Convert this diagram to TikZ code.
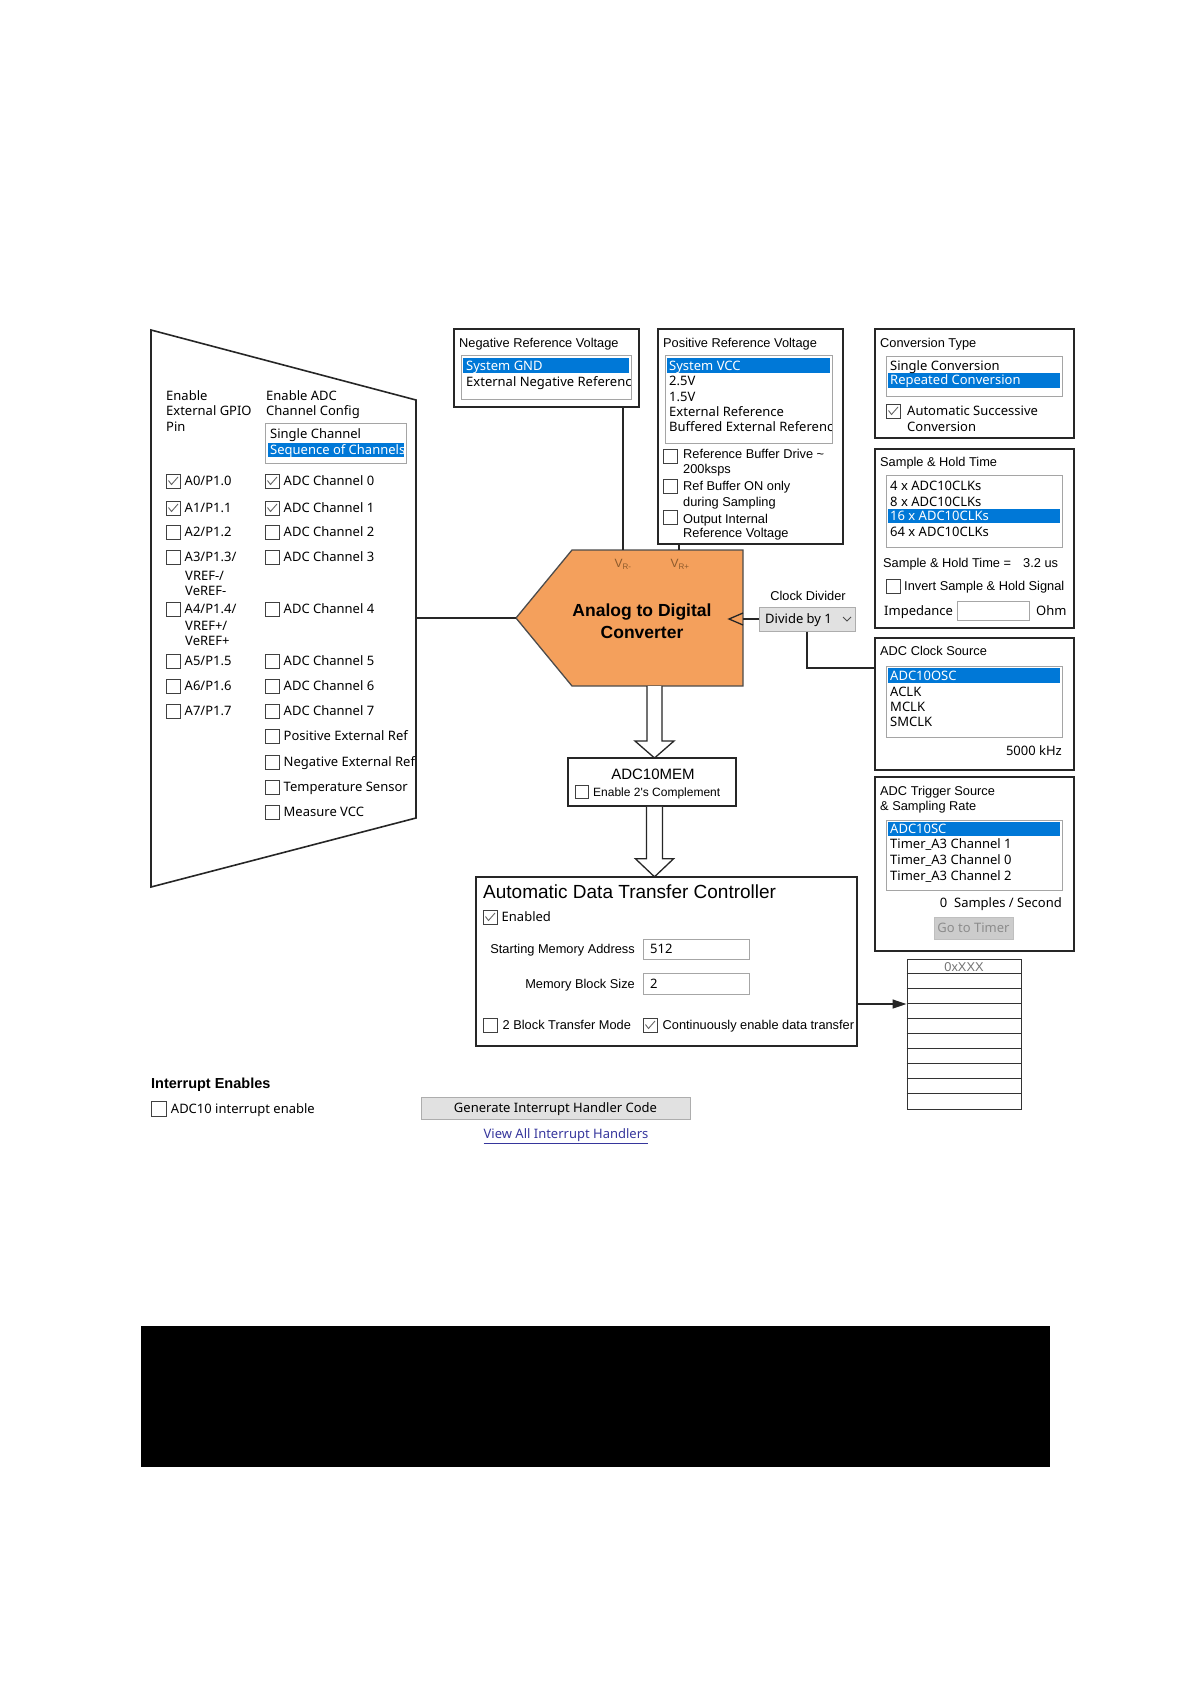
\documentclass[tikz,border=0pt]{standalone}
\usepackage{fontspec}
\setmainfont{Noto Sans}
\newfontfamily\msans{Liberation Sans}
\usetikzlibrary{arrows.meta,positioning,fit}
\definecolor{selBlue}{HTML}{0078D7}
\definecolor{adcOrange}{HTML}{F4A05C}
\definecolor{vrBrown}{HTML}{8C5A2C}
\definecolor{listEdge}{HTML}{A5A5A5}
\definecolor{btnFill}{HTML}{E1E1E1}
\definecolor{btnEdge}{HTML}{ADADAD}
\definecolor{linkBlue}{HTML}{36369C}

\begin{document}
\begin{tikzpicture}[x=1pt,y=-1pt,
  panel/.style={draw=black!85,line width=1.6pt,inner sep=0pt,fit={#1}},
  list/.style={draw=listEdge,line width=1pt,fill=white},
  sel/.style={fill=selBlue},
  ui/.style={inner sep=0pt,anchor=west,font=\fontsize{13}{15}\selectfont,text height=10pt,text depth=1pt},
  ms/.style={inner sep=0pt,anchor=west,font=\msans\fontsize{12.8}{15}\selectfont,text height=10pt,text depth=1pt},
  vr/.style={inner sep=0pt,font=\msans\fontsize{12}{12}\selectfont,text=vrBrown},
  cb/.style={draw=black!75,line width=1pt,fill=white,minimum size=14pt,inner sep=0pt},
  cbx/.style={cb,path picture={\draw[black!60,line width=0.9pt]
    ([xshift=-4.5pt,yshift=0.5pt]path picture bounding box.center) --
    ([xshift=-1.5pt,yshift=-3.5pt]path picture bounding box.center) --
    ([xshift=5pt,yshift=4pt]path picture bounding box.center);}},
  field/.style={draw=black!35,line width=1pt,fill=white,inner sep=0pt,fit={#1}},
  btn/.style={draw=btnEdge,fill=btnFill,line width=1pt,inner sep=0pt,
    font=\fontsize{13}{15}\selectfont,text height=10pt,text depth=1pt},
  wire/.style={draw=black!85,line width=1.3pt},
  hollow/.style={draw=black!85,line width=1.3pt,fill=white},
  adc/.style={draw=black!70,line width=1.3pt,fill=adcOrange}]
\useasboundingbox (0,0) rectangle (1191,1684);

% input multiplexer
\draw[draw=black!85,line width=1.6pt] (151,330) -- (416,400) -- (416,818) -- (151,887) -- cycle;
\coordinate (muxout) at (416,618);
\node[ui] (engpio1) at (166,396) {Enable};
\node[ui] (engpio2) at (166,411) {External GPIO};
\node[ui] (engpio3) at (166,427) {Pin};
\node[ui] (enadc1) at (266,396) {Enable ADC};
\node[ui] (enadc2) at (266,411) {Channel Config};
\draw[list] (265,423) rectangle (406,463);
\fill[sel] (268,443) rectangle (404,457);
\begin{scope}
\clip (266,424) rectangle (404,462);
\node[ui] (single) at (270,434) {Single Channel};
\node[ui,text=white] (seqch) at (270,450) {Sequence of Channels};
\end{scope}
\node[cbx] (a0) at (173,481) {}; \node[ui,right=4pt of a0] (a0t) {A0/P1.0};
\node[cbx] (a1) at (173,508) {}; \node[ui,right=4pt of a1] (a1t) {A1/P1.1};
\node[cb] (a2) at (173,532) {}; \node[ui,right=4pt of a2] (a2t) {A2/P1.2};
\node[cb] (a3) at (173,557) {}; \node[ui,right=4pt of a3] (a3t) {A3/P1.3/};
\node[ui] (a3u) at (185,576) {VREF-/};
\node[ui] (a3v) at (185,591) {VeREF-};
\node[cb] (a4) at (173,609) {}; \node[ui,right=4pt of a4] (a4t) {A4/P1.4/};
\node[ui] (a4u) at (185,626) {VREF+/};
\node[ui] (a4v) at (185,641) {VeREF+};
\node[cb] (a5) at (173,661) {}; \node[ui,right=4pt of a5] (a5t) {A5/P1.5};
\node[cb] (a6) at (173,686) {}; \node[ui,right=4pt of a6] (a6t) {A6/P1.6};
\node[cb] (a7) at (173,711) {}; \node[ui,right=4pt of a7] (a7t) {A7/P1.7};
\node[cbx] (ch0) at (272,481) {}; \node[ui,right=4pt of ch0] (ch0t) {ADC Channel 0};
\node[cbx] (ch1) at (272,508) {}; \node[ui,right=4pt of ch1] (ch1t) {ADC Channel 1};
\node[cb] (ch2) at (272,532) {}; \node[ui,right=4pt of ch2] (ch2t) {ADC Channel 2};
\node[cb] (ch3) at (272,557) {}; \node[ui,right=4pt of ch3] (ch3t) {ADC Channel 3};
\node[cb] (ch4) at (272,609) {}; \node[ui,right=4pt of ch4] (ch4t) {ADC Channel 4};
\node[cb] (ch5) at (272,661) {}; \node[ui,right=4pt of ch5] (ch5t) {ADC Channel 5};
\node[cb] (ch6) at (272,686) {}; \node[ui,right=4pt of ch6] (ch6t) {ADC Channel 6};
\node[cb] (ch7) at (272,711) {}; \node[ui,right=4pt of ch7] (ch7t) {ADC Channel 7};
\node[cb] (pext) at (272,736) {}; \node[ui,right=4pt of pext] (pextt) {Positive External Ref};
\node[cb] (next) at (272,762) {}; \node[ui,right=4pt of next] (nextt) {Negative External Ref};
\node[cb] (temp) at (272,787) {}; \node[ui,right=4pt of temp] (tempt) {Temperature Sensor};
\node[cb] (mvcc) at (272,812) {}; \node[ui,right=4pt of mvcc] (mvcct) {Measure VCC};

% reference voltages
\node[panel={(454,329) (639,407)}] (negref) {};
\node[ms] (negt) at (459,343) {Negative Reference Voltage};
\draw[list] (461,355) rectangle (631,399);
\fill[sel] (463,358) rectangle (629,373);
\begin{scope}
\clip (462,356) rectangle (630,398);
\node[ui,text=white] (gnd) at (466,366) {System GND};
\node[ui] (extneg) at (466,382) {External Negative Referenc};
\end{scope}
\node[panel={(658,329) (843,544)}] (posref) {};
\node[ms] (post) at (663,343) {Positive Reference Voltage};
\draw[list] (665,355) rectangle (832,443);
\fill[sel] (667,358) rectangle (830,373);
\begin{scope}
\clip (666,356) rectangle (831,442);
\node[ui,text=white] (vcc) at (669,366) {System VCC};
\node[ui] (v25) at (669,381) {2.5V};
\node[ui] (v15) at (669,397) {1.5V};
\node[ui] (extref) at (669,412) {External Reference};
\node[ui] (bufref) at (669,427) {Buffered External Referenc};
\end{scope}
\node[cb] (rbd) at (670,456) {};
\node[ms] (rbd1) at (683,454) {Reference Buffer Drive \textasciitilde};
\node[ms] (rbd2) at (683,469) {200ksps};
\node[cb] (rbs) at (670,486) {};
\node[ms] (rbs1) at (683,486) {Ref Buffer ON only};
\node[ms] (rbs2) at (683,502) {during Sampling};
\node[cb] (oiv) at (670,517) {};
\node[ms] (oiv1) at (683,519) {Output Internal};
\node[ms] (oiv2) at (683,533) {Reference Voltage};

% converter
\draw[adc] (572,550) -- (743,550) -- (743,686) -- (572,686) -- (516,618) -- cycle;
\coordinate (vrm) at (623,550);
\coordinate (vrp) at (679,550);
\coordinate (adcin) at (516,618);
\coordinate (clkin) at (743,619);
\coordinate (adcout) at (654.5,686);
\node[font=\msans\bfseries\fontsize{17.5}{22}\selectfont,align=center,inner sep=0pt] (adcname) at (642,621) {Analog to Digital\\Converter};
\node[vr] (vrmt) at (623,564) {V\textsubscript{R-}};
\node[vr] (vrpt) at (680,564) {V\textsubscript{R+}};
\draw[wire] (negref.south -| vrm) -- (vrm);
\draw[wire] (posref.south -| vrp) -- (vrp);
\draw[wire] (muxout) -- (adcin);

% clock
\draw[wire] (clkin) ++(0,-6) -- ++(-14,6) -- ++(14,6);
\node[ms,anchor=center] (clkdiv) at (808,596) {Clock Divider};
\node[btn,minimum width=96pt,minimum height=24pt] (divby) at (807,619) {};
\node[ui] (divbyt) at (765,619) {Divide by 1};
\draw[black!70,line width=1pt] (843,617) -- (847,621) -- (851,617);
\draw[wire] (clkin) -- (divby.west);
\coordinate (clkturn) at (807,668);

% conversion type
\node[panel={(875,329) (1074,438)}] (conv) {};
\node[ms] (convt) at (880,343) {Conversion Type};
\draw[list] (886,356) rectangle (1062,396);
\fill[sel] (888,373) rectangle (1060,388);
\node[ui] (sconv) at (890,366) {Single Conversion};
\node[ui,text=white] (rconv) at (890,380) {Repeated Conversion};
\node[cbx] (asc) at (893,411) {};
\node[ui] (asc1) at (907,411) {Automatic Successive};
\node[ui] (asc2) at (907,427) {Conversion};

% sample and hold
\node[panel={(875,449) (1074,628)}] (sht) {};
\node[ms] (shtt) at (880,462) {Sample \& Hold Time};
\draw[list] (886,475) rectangle (1062,547);
\fill[sel] (888,509) rectangle (1060,523);
\node[ui] (clk4) at (890,486) {4 x ADC10CLKs};
\node[ui] (clk8) at (890,502) {8 x ADC10CLKs};
\node[ui,text=white] (clk16) at (890,516) {16 x ADC10CLKs};
\node[ui] (clk64) at (890,532) {64 x ADC10CLKs};
\node[ms] (shval) at (883,563) {Sample \& Hold Time =};
\node[ms] (shus) at (1023,563) {3.2 us};
\node[cb] (inv) at (893,586) {};
\node[ms] (invt) at (904,586) {Invert Sample \& Hold Signal};
\node[ui] (imp) at (884,611) {Impedance};
\node[field={(957,601) (1029,620)}] (impf) {};
\node[ui] (ohm) at (1036,611) {Ohm};

% clock source
\node[panel={(875,638) (1074,770)}] (clksrc) {};
\node[ms] (clksrct) at (880,651) {ADC Clock Source};
\draw[list] (886,666) rectangle (1062,737);
\fill[sel] (888,668) rectangle (1060,683);
\node[ui,text=white] (osc) at (890,676) {ADC10OSC};
\node[ui] (aclk) at (890,692) {ACLK};
\node[ui] (mclk) at (890,707) {MCLK};
\node[ui] (smclk) at (890,722) {SMCLK};
\node[ui,anchor=east] (khz) at (1062,751) {5000 kHz};
\draw[wire] (divby.south -| clkturn) -- (clkturn) -- (clksrc.west |- clkturn);

% trigger source
\node[panel={(875,777) (1074,951)}] (trig) {};
\node[ms] (trigt1) at (880,791) {ADC Trigger Source};
\node[ms] (trigt2) at (880,806) {\& Sampling Rate};
\draw[list] (886,820) rectangle (1062,890);
\fill[sel] (888,822) rectangle (1060,836);
\node[ui,text=white] (sc) at (890,829) {ADC10SC};
\node[ui] (ta1) at (890,844) {Timer\_A3 Channel 1};
\node[ui] (ta0) at (890,860) {Timer\_A3 Channel 0};
\node[ui] (ta2) at (890,876) {Timer\_A3 Channel 2};
\node[ui,anchor=east] (sps) at (1062,903) {0\ \ Samples / Second};
\node[btn,minimum width=79pt,minimum height=22pt,fill=black!20,draw=black!25,text=black!45] (gotimer) at (973.5,928) {Go to Timer};

% memory register
\draw[hollow] (adcout) ++(-7.5,0) -- ++(0,55) -- ++(-12,0) -- ++(19.5,17) -- ++(19.5,-17) -- ++(-12,0) -- ++(0,-55);
\node[panel={(568,758) (736,806)}] (mem) {};
\node[ms,anchor=center,font=\msans\fontsize{15}{15}\selectfont,text height=11pt] (memt) at (653,774) {ADC10MEM};
\node[cb,minimum size=13pt] (twos) at (582,792) {};
\node[ms,font=\msans\fontsize{12}{14}\selectfont,right=4pt of twos] (twost) {Enable 2's Complement};
\draw[hollow] (mem.south -| adcout) ++(-8,0) -- ++(0,52) -- ++(-11,0) -- ++(19,18) -- ++(19,-18) -- ++(-11,0) -- ++(0,-52);

% data transfer controller
\node[panel={(476,877) (857,1046)}] (adtc) {};
\node[ms,font=\msans\fontsize{19}{20}\selectfont,text height=13pt] (adtct) at (483,892) {Automatic Data Transfer Controller};
\node[cbx] (ena) at (490,917) {}; \node[ui,right=4pt of ena] (enat) {Enabled};
\node[ms,anchor=east] (smat) at (635,949) {Starting Memory Address};
\node[field={(643,939) (749,959)}] (sma) {};
\node[ui] (smav) at (650,949) {512};
\node[ms,anchor=east] (mbst) at (635,984) {Memory Block Size};
\node[field={(643,973) (749,994)}] (mbs) {};
\node[ui] (mbsv) at (650,984) {2};
\node[cb] (tbm) at (490,1025) {}; \node[ms,right=5pt of tbm] (tbmt) {2 Block Transfer Mode};
\node[cbx] (cen) at (650,1025) {}; \node[ms,right=5pt of cen] (cent) {Continuously enable data transfer};

% memory block
\node[draw=black!80,line width=1pt,inner sep=0pt,fit={(907,959) (1021,1109)}] (memtab) {};
\foreach \r in {1,...,9}
  \draw[black!80,line width=1pt] ([yshift={-15pt*\r}]memtab.north west) -- ([yshift={-15pt*\r}]memtab.north east);
\node[ms,anchor=center,text=black!55] (xxx) at (964,966.5) {0xXXX};
\coordinate (xfer) at (880,1004);
\draw[wire,-{Triangle[length=14pt,width=9pt]}] (adtc.east |- xfer) -- (memtab.west |- xfer);

% interrupts
\node[ui,font=\msans\bfseries\fontsize{14.5}{16}\selectfont] (intt) at (151,1084) {Interrupt Enables};
\node[cb,minimum size=14.5pt] (adcie) at (159,1109) {};
\node[ui,right=4pt of adcie] (adciet) {ADC10 interrupt enable};
\node[btn,minimum width=269pt,minimum height=22pt] (genbtn) at (555.5,1108) {Generate Interrupt Handler Code};
\node[ui,anchor=center,text=linkBlue] (viewall) at (566,1134) {\underline{View All Interrupt Handlers}};

\fill (141,1326) rectangle (1050,1467);
\end{tikzpicture}
\end{document}
